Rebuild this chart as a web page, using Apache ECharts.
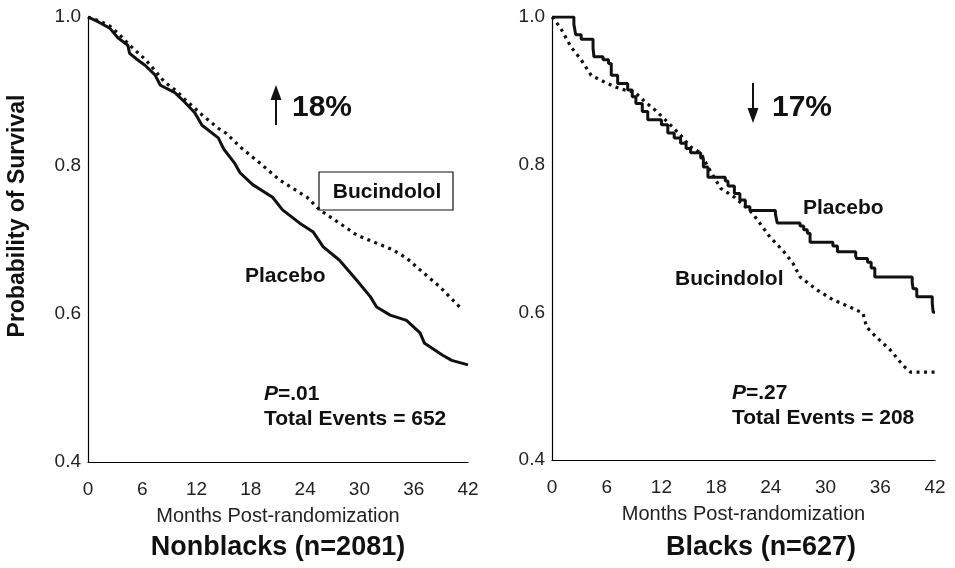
<!DOCTYPE html>
<html><head><meta charset="utf-8">
<script src="https://cdn.jsdelivr.net/npm/echarts@6/dist/echarts.min.js"></script>
<style>html,body{margin:0;padding:0;background:#fff}#c{width:955px;height:568px}</style>
</head><body><div id="c"></div>
<script>
const xTicks = [0, 6, 12, 18, 24, 30, 36, 42];
const yTicks = [0.4, 0.6, 0.8, 1.0];

// Nonblacks panel: [month, survival]
const nonblackPlacebo = [[0,1.0],[0.2,0.998],[1.2,0.993],[2.4,0.985],[3.3,0.972],[4.4,0.962],[4.6,0.951],[5.4,0.943],[6.3,0.935],[7.4,0.922],[8,0.908],[9.6,0.898],[10.7,0.885],[11.8,0.871],[12.6,0.854],[14.4,0.837],[15.0,0.822],[16.2,0.803],[16.8,0.79],[18.2,0.774],[20.4,0.757],[21.5,0.74],[23.4,0.722],[24.9,0.71],[26,0.69],[27.8,0.672],[29.7,0.645],[31.2,0.623],[31.9,0.609],[33.4,0.598],[35.2,0.591],[36.7,0.574],[37.2,0.56],[39.2,0.544],[40.2,0.537],[42,0.531]];
const nonblackBucindolol = [[0,1.0],[1.2,0.995],[2.4,0.988],[3.5,0.976],[4.6,0.962],[6.3,0.943],[7.4,0.928],[8.4,0.913],[9.8,0.9],[10.7,0.889],[11.8,0.877],[12.6,0.868],[14.4,0.85],[15.3,0.843],[16.8,0.825],[19,0.803],[21.2,0.78],[24.2,0.757],[25.6,0.74],[27.8,0.722],[29.7,0.706],[31.5,0.697],[33.7,0.686],[35.2,0.675],[36.7,0.659],[38.9,0.636],[41.4,0.605]];

// Blacks panel: [month, survival]
const blackPlacebo = [[0,1.0],[2.4,0.99],[2.6,0.976],[3.2,0.97],[4.5,0.958],[4.6,0.946],[5.6,0.942],[6.2,0.937],[6.5,0.921],[7.2,0.91],[8.3,0.901],[8.8,0.892],[9.2,0.883],[9.9,0.872],[10.5,0.861],[12.0,0.854],[12.7,0.843],[13.4,0.836],[14.1,0.829],[14.7,0.822],[15.2,0.816],[16.3,0.809],[16.6,0.797],[17.1,0.783],[19.0,0.778],[19.3,0.771],[20.0,0.761],[20.6,0.752],[21.2,0.743],[21.7,0.738],[24.5,0.733],[24.7,0.721],[27.2,0.717],[27.6,0.712],[28.0,0.707],[28.3,0.695],[30.8,0.69],[31.3,0.682],[33.3,0.676],[33.4,0.673],[34.6,0.668],[35.0,0.66],[35.4,0.648],[39.5,0.64],[39.6,0.632],[40.0,0.621],[41.7,0.612],[41.8,0.6],[42.0,0.6]];
const blackBucindolol = [[0,1.0],[0.9,0.986],[2.1,0.959],[3.2,0.942],[4.3,0.921],[5.9,0.911],[7.0,0.905],[8.0,0.901],[9.1,0.898],[10.2,0.885],[11.3,0.874],[12.4,0.861],[14.1,0.84],[15.2,0.824],[16.3,0.816],[17.1,0.797],[18.5,0.768],[20.0,0.756],[22.0,0.734],[23.9,0.702],[25.3,0.684],[26.4,0.667],[27.2,0.648],[29.1,0.63],[30.8,0.617],[32.7,0.607],[34.1,0.599],[34.5,0.58],[35.6,0.566],[37.1,0.549],[38.5,0.528],[39.3,0.519],[42,0.519]];

const FONT = '"Liberation Sans", Arial, sans-serif';
const chart = echarts.init(document.getElementById('c'), null, {renderer: 'canvas'});

function xAxisDef(gi) {
  return {
    gridIndex: gi, type: 'value', min: xTicks[0], max: xTicks[xTicks.length - 1], interval: 6,
    axisLine: {show: true, onZero: false, lineStyle: {color: '#000', width: 1.2}},
    axisTick: {show: false}, splitLine: {show: false},
    axisLabel: {color: '#222', fontFamily: FONT, fontSize: 19, margin: 18},
    name: 'Months Post-randomization', nameLocation: 'middle', nameGap: 44,
    nameTextStyle: {color: '#222', fontFamily: FONT, fontSize: 20, verticalAlign: 'top'}
  };
}
function yAxisDef(gi) {
  return {
    gridIndex: gi, type: 'value', min: yTicks[0], max: yTicks[yTicks.length - 1], interval: 0.2,
    axisLine: {show: true, lineStyle: {color: '#000', width: 1.2}},
    axisTick: {show: false}, splitLine: {show: false},
    axisLabel: {color: '#222', fontFamily: FONT, fontSize: 19, margin: 7, formatter: v => v.toFixed(1)}
  };
}
const solid = {color: '#111', width: 3, type: 'solid'};
const dotted = {color: '#111', width: 3.2, type: [3, 4.5]};

function txt(x, y, text, size, opts) {
  return {type: 'text', x: x, y: y, style: Object.assign({text: text, fill: '#111', font: 'bold ' + size + 'px ' + FONT, textVerticalAlign: 'middle'}, opts || {})};
}
function ptxt(x, y, val) {
  return {type: 'text', x: x, y: y, style: {rich: {i: {font: 'italic bold 21px ' + FONT, fill: '#111'}, b: {font: 'bold 21px ' + FONT, fill: '#111'}}, text: '{i|P}{b|' + val + '}', textVerticalAlign: 'middle'}};
}

chart.setOption({
  animation: false,
  backgroundColor: '#fff',
  grid: [
    {left: 88, right: 487, top: 17, bottom: 106},
    {left: 552, right: 20, top: 17, bottom: 108}
  ],
  xAxis: [xAxisDef(0), xAxisDef(1)],
  yAxis: [yAxisDef(0), yAxisDef(1)],
  series: [
    {type: 'line', xAxisIndex: 0, yAxisIndex: 0, data: nonblackPlacebo, showSymbol: false, lineStyle: solid},
    {type: 'line', xAxisIndex: 0, yAxisIndex: 0, data: nonblackBucindolol, showSymbol: false, lineStyle: dotted},
    {type: 'line', xAxisIndex: 1, yAxisIndex: 1, data: blackPlacebo, step: 'end', showSymbol: false, lineStyle: solid},
    {type: 'line', xAxisIndex: 1, yAxisIndex: 1, data: blackBucindolol, showSymbol: false, lineStyle: dotted}
  ],
  graphic: [
    {type: 'text', x: 18, y: 216, rotation: Math.PI / 2, style: {text: 'Probability of Survival', fill: '#111', font: 'bold 23px ' + FONT, textAlign: 'center', textVerticalAlign: 'middle'}},
    // left panel annotations
    {type: 'line', shape: {x1: 276, y1: 98, x2: 276, y2: 125}, style: {stroke: '#111', lineWidth: 2}},
    {type: 'polygon', shape: {points: [[270.5, 100], [281.5, 100], [276, 85]]}, style: {fill: '#111'}},
    txt(292, 108, '18%', 30),
    {type: 'rect', shape: {x: 319, y: 172, width: 134, height: 38}, style: {fill: '#fff', stroke: '#111', lineWidth: 1.2}},
    txt(387, 192, 'Bucindolol', 21, {textAlign: 'center'}),
    txt(245, 276, 'Placebo', 21),
    ptxt(264, 394, '=.01'),
    txt(264, 419, 'Total Events = 652', 21),
    {type: 'text', x: 278, y: 548, style: {text: 'Nonblacks (n=2081)', fill: '#111', font: 'bold 27px ' + FONT, textAlign: 'center', textVerticalAlign: 'middle'}},
    // right panel annotations
    {type: 'line', shape: {x1: 753, y1: 83, x2: 753, y2: 110}, style: {stroke: '#111', lineWidth: 2}},
    {type: 'polygon', shape: {points: [[747.5, 108], [758.5, 108], [753, 123]]}, style: {fill: '#111'}},
    txt(772, 108, '17%', 30),
    txt(803, 208, 'Placebo', 21),
    txt(675, 279, 'Bucindolol', 21),
    ptxt(732, 393, '=.27'),
    txt(732, 418, 'Total Events = 208', 21),
    {type: 'text', x: 761, y: 548, style: {text: 'Blacks (n=627)', fill: '#111', font: 'bold 27px ' + FONT, textAlign: 'center', textVerticalAlign: 'middle'}}
  ]
});
</script></body></html>
